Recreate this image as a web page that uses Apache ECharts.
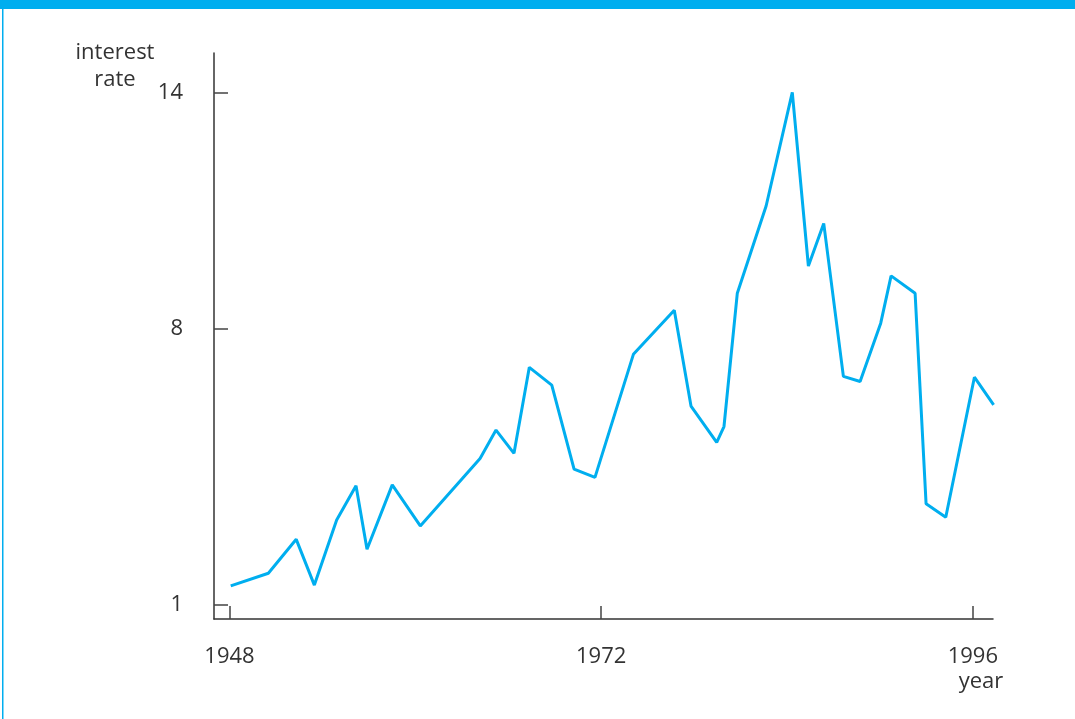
<!DOCTYPE html>
<html>
<head>
<meta charset="utf-8">
<title>interest rate</title>
<script src="https://cdn.jsdelivr.net/npm/echarts@6/dist/echarts.min.js"></script>
<style>
  html, body { margin: 0; padding: 0; background: #fff; }
  #chart { width: 1075px; height: 719px; }
</style>
</head>
<body>
<div id="chart"></div>
<script>
// values
const years = [1948.08, 1950.51, 1952.31, 1953.48, 1954.92, 1956.17, 1956.88, 1958.51, 1960.32,
  1964.18, 1965.21, 1966.37, 1967.36, 1968.81, 1970.25, 1971.6, 1974.08, 1976.72, 1977.8,
  1979.46, 1979.93, 1980.79, 1982.65, 1984.34, 1985.38, 1986.37, 1987.64, 1988.72, 1990.05,
  1990.72, 1992.27, 1992.98, 1994.25, 1996.1, 1997.34];
const rates = [1.49, 1.81, 2.67, 1.51, 3.16, 4.03, 2.42, 4.05, 3.01,
  4.72, 5.44, 4.85, 7.03, 6.58, 4.45, 4.24, 7.36, 8.48, 6.05,
  5.13, 5.53, 8.91, 11.12, 14.0, 9.6, 10.68, 6.8, 6.67, 8.15,
  9.35, 8.91, 3.57, 3.23, 6.78, 6.08];
const yearTicks = [1948, 1972, 1996];
const rateTicks = [1, 8, 14];

const blue = "#00aeef";
const ink = "#333";
const font = "'Open Sans', 'Noto Sans', sans-serif";

let chart = echarts.init(document.getElementById("chart"));

let points = [];
for (let i = 0; i < years.length; i++) {
  points.push([years[i], rates[i]]);
}

let option = {
  animation: false,
  backgroundColor: "#fff",
  grid: {
    left: 214,
    top: 53,
    right: 82,
    bottom: 100,
    containLabel: false
  },
  graphic: [
    // frame
    { type: "rect", shape: { x: 0, y: 0, width: 1075, height: 9 }, style: { fill: blue } },
    { type: "rect", shape: { x: 2, y: 0, width: 1.5, height: 719 }, style: { fill: blue } },
    {
      type: "text",
      x: 115,
      y: 39,
      style: {
        text: "interest\nrate",
        align: "center",
        lineHeight: 27,
        font: "22px " + font,
        fill: ink
      }
    },
    {
      type: "text",
      x: 981,
      y: 671,
      style: {
        text: "year",
        align: "center",
        font: "22px " + font,
        fill: ink
      }
    }
  ],
  xAxis: {
    type: "value",
    min: 1947,
    max: 1997.3,
    splitLine: { show: false },
    axisLine: { onZero: false, lineStyle: { color: ink, width: 1.5 } },
    axisTick: {
      customValues: yearTicks,
      inside: true,
      length: 13,
      lineStyle: { color: "#444", width: 1.5 }
    },
    axisLabel: {
      customValues: yearTicks,
      formatter: function (v) { return String(v); },
      margin: 27,
      fontSize: 22,
      fontFamily: font,
      color: ink
    }
  },
  yAxis: {
    type: "value",
    min: 0.65,
    max: 15,
    splitLine: { show: false },
    axisLine: { show: true, onZero: false, lineStyle: { color: ink, width: 1.5 } },
    axisTick: {
      show: true,
      customValues: rateTicks,
      inside: true,
      length: 14,
      lineStyle: { color: "#444", width: 1.5 }
    },
    axisLabel: {
      customValues: rateTicks,
      formatter: function (v) { return String(v); },
      margin: 31,
      fontSize: 22,
      fontFamily: font,
      color: ink
    }
  },
  series: [
    {
      type: "line",
      data: points,
      symbol: "none",
      clip: false,
      lineStyle: { color: blue, width: 3 }
    }
  ]
};

chart.setOption(option);
</script>
</body>
</html>
